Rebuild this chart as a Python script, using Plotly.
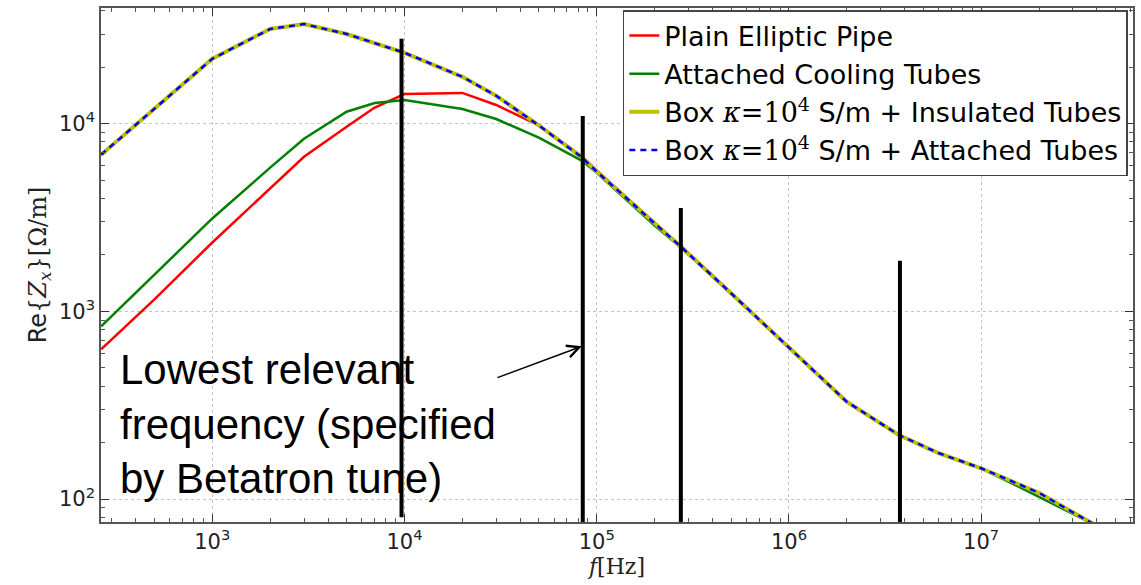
import numpy as np
import plotly.graph_objects as go

# ---------------- data ----------------
freq = [264, 500, 1000, 2000, 3000, 5000, 7000, 1e4, 2e4, 3e4, 5e4, 8.4e4, 1e5,
        2e5, 2.77e5, 5e5, 1e6, 2e6, 3.75e6, 6e6, 1e7, 1.5e7, 2e7, 3e7, 4e7]

plain_pipe = [628, 1160, 2330, 4530, 6670, 9640, 12200, 14400, 14600, 12600, 9800, 6700, 5650,
              2970, 2210, 1260, 645, 330, 219, 176, 146, 123, 108, 85, 72]
cooling_tubes = [832, 1570, 3130, 5840, 8320, 11600, 12900, 13400, 12000, 10600, 8430, 6350, 5480,
                 2870, 2170, 1240, 645, 330, 219, 176, 146, 119, 103, 84, 72]
box_insulated = [6840, 12000, 22200, 32000, 34000, 30100, 27000, 23900, 17800, 14100, 9800, 6600, 5560,
                 2940, 2190, 1250, 645, 330, 219, 176, 146, 123, 108, 85, 72]
box_attached = [6840, 12000, 22200, 32000, 34000, 30100, 27000, 23900, 17800, 14100, 9800, 6600, 5560,
                2940, 2190, 1250, 645, 330, 219, 176, 146, 123, 108, 85, 72]

# vertical marker lines (frequency, top value, bottom value)
marker_freq = [9650, 84600, 2.74e5, 3.78e6]
marker_top = [28400, 11000, 3560, 1860]
marker_bottom = [80, 70, 70, 70]

# arrow (tail -> tip)
arrow_tail = (29900, 441)
arrow_tip = (83600, 652)

# tick labels
x_tick_vals = [1e3, 1e4, 1e5, 1e6, 1e7]
x_tick_text = ["10<sup>3</sup>", "10<sup>4</sup>", "10<sup>5</sup>", "10<sup>6</sup>", "10<sup>7</sup>"]
y_tick_vals = [1e2, 1e3, 1e4]
y_tick_text = ["10<sup>2</sup>", "10<sup>3</sup>", "10<sup>4</sup>"]

series_names = [
    "Plain Elliptic Pipe",
    "Attached Cooling Tubes",
    "Box <span style=\"font-family:'DejaVu Serif'\"><i>κ</i>=10<sup>4</sup></span> S/m + Insulated Tubes",
    "Box <span style=\"font-family:'DejaVu Serif'\"><i>κ</i>=10<sup>4</sup></span> S/m + Attached Tubes",
]

x_minor = [m * 10.0 ** e for e in range(2, 8) for m in range(2, 10)]
y_minor = [m * 10.0 ** e for e in range(1, 5) for m in range(2, 10)]

fig = go.Figure()

fig.add_trace(go.Scatter(x=freq, y=plain_pipe, mode="lines", name=series_names[0],
                         line=dict(color="#ff0000", width=2.5)))
fig.add_trace(go.Scatter(x=freq, y=cooling_tubes, mode="lines", name=series_names[1],
                         line=dict(color="#008000", width=2.5)))
fig.add_trace(go.Scatter(x=freq, y=box_insulated, mode="lines", name=series_names[2],
                         line=dict(color="#bfbf00", width=4)))
fig.add_trace(go.Scatter(x=freq, y=box_attached, mode="lines", name=series_names[3],
                         line=dict(color="#0000ff", width=2.5, dash="6px,5px")))

for f, top, bot in zip(marker_freq, marker_top, marker_bottom):
    fig.add_trace(go.Scatter(x=[f, f], y=[bot, top], mode="lines", showlegend=False,
                             line=dict(color="black", width=4), hoverinfo="skip"))

fig.add_annotation(x=np.log10(arrow_tip[0]), y=np.log10(arrow_tip[1]),
                   ax=np.log10(arrow_tail[0]), ay=np.log10(arrow_tail[1]),
                   xref="x", yref="y", axref="x", ayref="y",
                   text="", showarrow=True, arrowhead=5, arrowsize=1.6,
                   arrowwidth=1.5, arrowcolor="black")

fig.add_annotation(x=0.0165, y=0.19, xref="paper", yref="paper",
                   xanchor="left", yanchor="middle", align="left", showarrow=False,
                   text="Lowest relevant<br>frequency (specified<br>by Betatron tune)",
                   font=dict(family="Liberation Sans, Arial", size=42, color="black"))

axis_common = dict(
    type="log", showline=True, linecolor="#555555", linewidth=1.5, mirror="allticks",
    ticks="inside", ticklen=8, tickwidth=1.3, tickcolor="#333333",
    showgrid=True, gridcolor="#c4c4c4", griddash="dot", gridwidth=1,
    zeroline=False, tickmode="array",
    tickfont=dict(family="DejaVu Sans", size=21, color="#222222"),
)

fig.update_xaxes(**axis_common, range=[2.421, 7.79],
                 tickvals=x_tick_vals, ticktext=x_tick_text,
                 minor=dict(tickmode="array", tickvals=x_minor, ticks="inside", ticklen=4,
                            tickcolor="#555555", showgrid=False),
                 title=dict(text="<span style=\"font-family:'DejaVu Serif'\"><i>f</i>[Hz]</span>",
                            font=dict(family="DejaVu Serif", size=22, color="#222222"), standoff=4))
fig.update_yaxes(**axis_common, range=[1.878, 4.617],
                 tickvals=y_tick_vals, ticktext=y_tick_text,
                 minor=dict(tickmode="array", tickvals=y_minor, ticks="inside", ticklen=4,
                            tickcolor="#555555", showgrid=False),
                 title=dict(text="Re<span style=\"font-family:'DejaVu Serif'\">{<i>Z<sub>x</sub></i>}[Ω/m]</span>",
                            font=dict(family="DejaVu Sans", size=24, color="#222222"), standoff=6))

fig.update_layout(
    width=1141, height=585,
    margin=dict(l=101, r=6, t=7, b=63),
    paper_bgcolor="white", plot_bgcolor="white",
    showlegend=True,
    legend=dict(x=0.995, y=0.996, xanchor="right", yanchor="top",
                bgcolor="white", bordercolor="#444444", borderwidth=1.5,
                font=dict(family="DejaVu Sans", size=27, color="black"),
                itemwidth=30, tracegroupgap=0),
)

fig.write_html("out.html")
